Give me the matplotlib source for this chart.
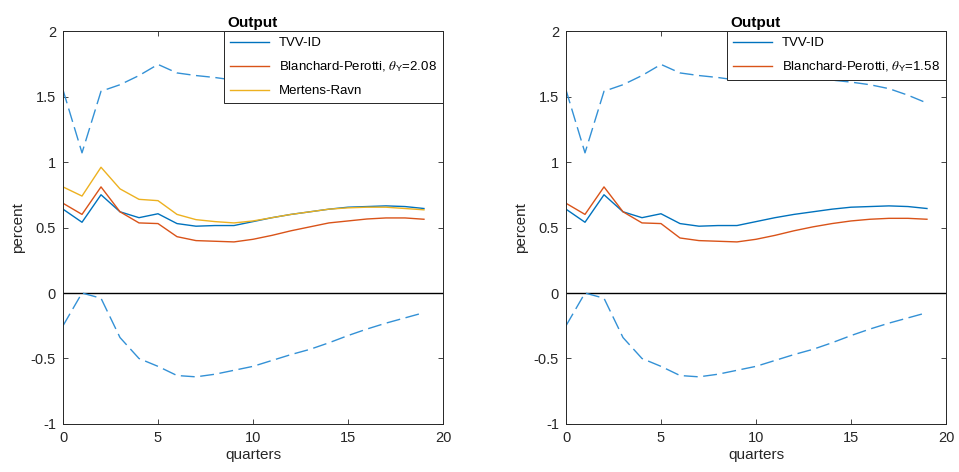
import numpy as np
import matplotlib
matplotlib.use("Agg")
import matplotlib.pyplot as plt

plt.rcParams['font.family'] = ['Liberation Sans', 'DejaVu Sans']
plt.rcParams['mathtext.fontset'] = 'stix'

# quarters after the shock
quarters = np.arange(20)

# TVV-ID point estimate and bands
tvv = [0.64, 0.54, 0.75, 0.62, 0.575, 0.605, 0.53, 0.51, 0.515, 0.515,
       0.545, 0.575, 0.60, 0.62, 0.64, 0.655, 0.66, 0.665, 0.66, 0.645]
tvv_hi = [1.55, 1.07, 1.54, 1.59, 1.66, 1.745, 1.68, 1.66, 1.645, 1.625,
          1.63, 1.635, 1.64, 1.635, 1.625, 1.61, 1.59, 1.56, 1.51, 1.45]
tvv_lo = [-0.25, 0.0, -0.04, -0.34, -0.50, -0.56, -0.63, -0.64, -0.62, -0.59,
          -0.56, -0.515, -0.47, -0.43, -0.38, -0.325, -0.275, -0.23, -0.19, -0.15]

# Blanchard-Perotti with two elasticities
bp_208 = [0.685, 0.60, 0.81, 0.62, 0.535, 0.53, 0.43, 0.40, 0.395, 0.39,
          0.41, 0.44, 0.475, 0.505, 0.535, 0.55, 0.565, 0.573, 0.573, 0.563]
bp_158 = [0.685, 0.60, 0.81, 0.62, 0.535, 0.53, 0.42, 0.40, 0.395, 0.39,
          0.41, 0.44, 0.475, 0.505, 0.53, 0.55, 0.563, 0.57, 0.57, 0.563]

# Mertens-Ravn
mr = [0.81, 0.74, 0.96, 0.795, 0.715, 0.705, 0.60, 0.56, 0.545, 0.535,
      0.55, 0.575, 0.60, 0.62, 0.64, 0.65, 0.655, 0.655, 0.645, 0.635]

BLUE = '#0072BD'
BAND = '#3391d6'
RED = '#D95319'
YEL = '#EDB120'
AX = '#262626'

fig = plt.figure(figsize=(9.59, 4.72), dpi=100)
ax1 = fig.add_axes([0.0657, 0.1017, 0.3962, 0.8326])
ax2 = fig.add_axes([0.5902, 0.1017, 0.3962, 0.8326])


def setup(ax):
    ax.set_xlim(0, 20)
    ax.set_ylim(-1, 2)
    ax.set_xticks([0, 5, 10, 15, 20])
    ax.set_yticks([-1, -0.5, 0, 0.5, 1, 1.5, 2])
    ax.set_yticklabels(['-1', '-0.5', '0', '0.5', '1', '1.5', '2'])
    ax.tick_params(direction='in', top=True, right=True, length=3.5,
                   width=0.6, colors=AX, labelsize=10.5, pad=5)
    for s in ax.spines.values():
        s.set_color(AX)
        s.set_linewidth(0.7)
    ax.axhline(0, color='black', lw=1.0)
    ax.set_xlabel('quarters', fontsize=11, color=AX, labelpad=2)
    ax.set_ylabel('percent', fontsize=11, color=AX, labelpad=4)
    ax.set_title('Output', fontsize=11, fontweight='bold', pad=3)


for ax in (ax1, ax2):
    setup(ax)

# left panel
h1, = ax1.plot(quarters, tvv, color=BLUE, lw=1.0, label='TVV-ID')
h2, = ax1.plot(quarters, bp_208, color=RED, lw=1.0,
               label=r'Blanchard-Perotti, $\theta_\mathregular{Y}$=2.08')
h3, = ax1.plot(quarters, mr, color=YEL, lw=1.0, label='Mertens-Ravn')
ax1.plot(quarters, tvv_hi, color=BAND, lw=1.0, dashes=(10, 4))
ax1.plot(quarters, tvv_lo, color=BAND, lw=1.0, dashes=(10, 4))
leg = ax1.legend(handles=[h1, h2, h3], loc='upper right', borderaxespad=0,
                 fancybox=False, edgecolor=AX, fontsize=9.5, framealpha=1,
                 handlelength=2.9, labelspacing=0.8, borderpad=0.45)
leg.get_frame().set_linewidth(0.7)

# right panel
g1, = ax2.plot(quarters, tvv, color=BLUE, lw=1.0, label='TVV-ID')
g2, = ax2.plot(quarters, bp_158, color=RED, lw=1.0,
               label=r'Blanchard-Perotti, $\theta_\mathregular{Y}$=1.58')
ax2.plot(quarters, tvv_hi, color=BAND, lw=1.0, dashes=(10, 4))
ax2.plot(quarters, tvv_lo, color=BAND, lw=1.0, dashes=(10, 4))
leg2 = ax2.legend(handles=[g1, g2], loc='upper right', borderaxespad=0,
                  fancybox=False, edgecolor=AX, fontsize=9.5, framealpha=1,
                  handlelength=2.9, labelspacing=0.8, borderpad=0.45)
leg2.get_frame().set_linewidth(0.7)

fig.savefig('out.png', dpi=100, facecolor='white')
